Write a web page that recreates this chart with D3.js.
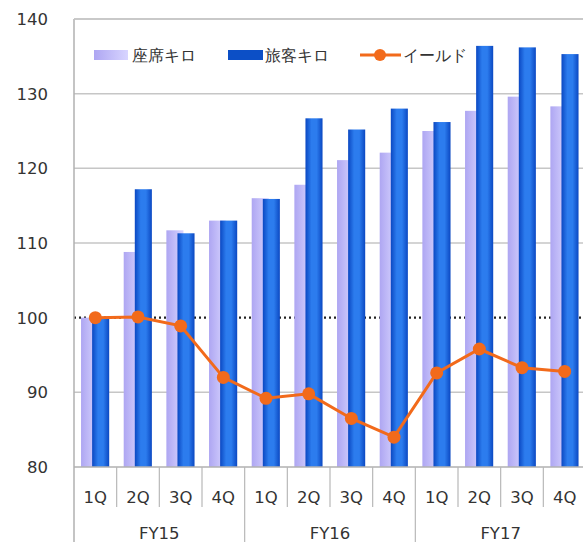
<!DOCTYPE html>
<html><head><meta charset="utf-8">
<script src="https://cdn.jsdelivr.net/npm/d3@7"></script>
<style>
html,body{margin:0;padding:0;background:#fff;}
svg{display:block;}
text{font-family:"DejaVu Sans",Verdana,sans-serif;fill:#333;}
</style></head>
<body>
<svg id="chart" width="583" height="542"></svg>
<script>
const quarters = ["1Q","2Q","3Q","4Q","1Q","2Q","3Q","4Q","1Q","2Q","3Q","4Q"];
const years = ["FY15","FY16","FY17"];
const seatKm = [100,108.8,111.7,113.0,116.0,117.8,121.1,122.1,125.0,127.7,129.6,128.3];
const paxKm  = [100,117.2,111.3,113.0,115.9,126.7,125.2,128.0,126.2,136.4,136.2,135.3];
const yieldV = [100,100.1,98.9,92.0,89.2,89.8,86.5,84.0,92.6,95.8,93.3,92.8];
const yTicks = [80,90,100,110,120,130,140];
const legendLabels = ["座席キロ","旅客キロ","イールド"];

const svg = d3.select("#chart");
const pLeft = 74, pRight = 586, pTop = 19, pBottom = 467;
const idx = d3.range(quarters.length);
const x = d3.scaleBand().domain(idx).range([pLeft, pRight]).paddingInner(0).paddingOuter(0);
const y = d3.scaleLinear().domain([80,140]).range([pBottom, pTop]);
const bw = x.bandwidth();

const defs = svg.append("defs");
const g1 = defs.append("linearGradient").attr("id","gSeat").attr("x1","0").attr("x2","1").attr("y1","0").attr("y2","0");
g1.append("stop").attr("offset","0").attr("stop-color","#aea6f2");
g1.append("stop").attr("offset","1").attr("stop-color","#d8d5ff");
const g2 = defs.append("linearGradient").attr("id","gPax").attr("x1","0").attr("x2","1").attr("y1","0").attr("y2","0");
g2.append("stop").attr("offset","0").attr("stop-color","#0b48c2");
g2.append("stop").attr("offset","0.35").attr("stop-color","#2c7cee");
g2.append("stop").attr("offset","0.65").attr("stop-color","#2c7cee");
g2.append("stop").attr("offset","1").attr("stop-color","#0b48c2");

// gridlines
svg.append("g").selectAll("line").data(yTicks.filter(d=>d>80 && d!==100)).join("line")
  .attr("x1",pLeft).attr("x2",583).attr("y1",d=>y(d)).attr("y2",d=>y(d))
  .attr("stroke","#c6c6c6").attr("stroke-width",1.5);

// dotted reference line at 100
svg.append("line").attr("x1",pLeft).attr("x2",583).attr("y1",y(100)).attr("y2",y(100))
  .attr("stroke","#222").attr("stroke-width",2.2).attr("stroke-dasharray","2,3");

// bars
const barW = bw*0.4;
svg.append("g").selectAll("rect").data(idx).join("rect")
  .attr("x",i=>x(i)+bw*0.165).attr("width",barW)
  .attr("y",i=>y(seatKm[i])).attr("height",i=>y(80)-y(seatKm[i]))
  .attr("fill","url(#gSeat)");
svg.append("g").selectAll("rect").data(idx).join("rect")
  .attr("x",i=>x(i)+bw*0.425).attr("width",barW)
  .attr("y",i=>y(paxKm[i])).attr("height",i=>y(80)-y(paxKm[i]))
  .attr("fill","url(#gPax)");

// yield line
const line = d3.line().x(i=>x(i)+bw/2).y(i=>y(yieldV[i]));
svg.append("path").datum(idx).attr("d",line).attr("fill","none")
  .attr("stroke","#f26a1b").attr("stroke-width",3);
svg.append("g").selectAll("circle").data(idx).join("circle")
  .attr("cx",i=>x(i)+bw/2).attr("cy",i=>y(yieldV[i])).attr("r",6.5)
  .attr("fill","#f26a1b");

// axes lines
svg.append("line").attr("x1",pLeft).attr("x2",pLeft).attr("y1",pTop).attr("y2",542)
  .attr("stroke","#b0b0b0").attr("stroke-width",1.5);
svg.append("line").attr("x1",pLeft).attr("x2",583).attr("y1",pTop).attr("y2",pTop)
  .attr("stroke","#c6c6c6").attr("stroke-width",1.5);
svg.append("line").attr("x1",pLeft).attr("x2",583).attr("y1",pBottom).attr("y2",pBottom)
  .attr("stroke","#b0b0b0").attr("stroke-width",1.5);

// y tick labels
svg.append("g").selectAll("text").data(yTicks).join("text")
  .attr("x",48).attr("y",d=>y(d)).attr("dy","0.36em").attr("text-anchor","end")
  .attr("font-size",16.5).text(d=>d);

// category dividers
svg.append("g").selectAll("line").data(idx.slice(1)).join("line")
  .attr("x1",i=>x(i)).attr("x2",i=>x(i)).attr("y1",pBottom)
  .attr("y2",i=>i%4===0?542:507)
  .attr("stroke","#b8b8b8").attr("stroke-width",1.2);

svg.append("g").selectAll("text").data(idx).join("text")
  .attr("x",i=>x(i)+bw/2).attr("y",497).attr("dy","0.36em").attr("text-anchor","middle")
  .attr("font-size",16.5).text(i=>quarters[i]);

svg.append("g").selectAll("text").data(years).join("text")
  .attr("x",(d,j)=>(x(j*4)+x(j*4+3)+bw)/2).attr("y",533).attr("dy","0.36em").attr("text-anchor","middle")
  .attr("font-size",16.5).text(d=>d);

// legend
const lg = svg.append("g");
lg.append("rect").attr("x",94).attr("y",50).attr("width",34).attr("height",10).attr("fill","url(#gSeat)");
lg.append("text").attr("x",132).attr("y",55).attr("dy","0.36em").attr("font-size",16)
  .attr("font-family","'Noto Sans CJK JP',sans-serif").text(legendLabels[0]);
lg.append("rect").attr("x",228).attr("y",50).attr("width",35).attr("height",10).attr("fill","#0c4fc6");
lg.append("text").attr("x",265).attr("y",55).attr("dy","0.36em").attr("font-size",16)
  .attr("font-family","'Noto Sans CJK JP',sans-serif").text(legendLabels[1]);
lg.append("line").attr("x1",360).attr("x2",401).attr("y1",55).attr("y2",55).attr("stroke","#f26a1b").attr("stroke-width",3);
lg.append("circle").attr("cx",380).attr("cy",55).attr("r",6).attr("fill","#f26a1b");
lg.append("text").attr("x",403).attr("y",55).attr("dy","0.36em").attr("font-size",16)
  .attr("font-family","'Noto Sans CJK JP',sans-serif").text(legendLabels[2]);
</script>
</body></html>
